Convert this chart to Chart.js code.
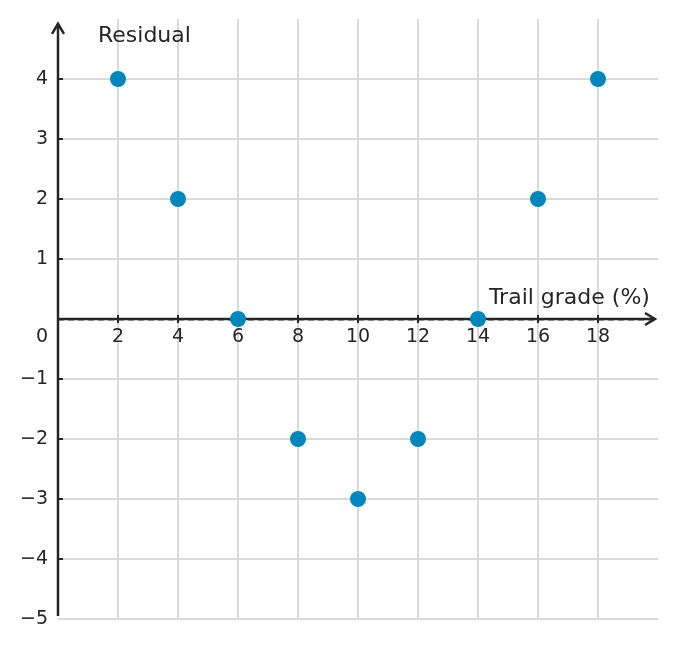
<!DOCTYPE html>
<html>
<head>
<meta charset="utf-8">
<script src="https://cdn.jsdelivr.net/npm/chart.js@4/dist/chart.umd.min.js"></script>
<style>
  html, body { margin: 0; padding: 0; background: #fff; }
  #wrap { width: 678px; height: 648px; }
</style>
</head>
<body>
<div id="wrap"><canvas id="residChart" width="678" height="648"></canvas></div>
<script>
// Data
const grades = [2, 4, 6, 8, 10, 12, 14, 16, 18];
const residuals = [4, 2, 0, -2, -3, -2, 0, 2, 4];
const xTicks = [2, 4, 6, 8, 10, 12, 14, 16, 18];
const yTicks = [4, 3, 2, 1, -1, -2, -3, -4, -5];
const xTitle = 'Trail grade (%)';
const yTitle = 'Residual';

const INK = '#262626';
const FONT = '"DejaVu Sans", sans-serif';

// --- Axes with arrows, ticks and labels ---
const axesPlugin = {
    id: 'residAxes',
    beforeDatasetsDraw(chart) {
        const ctx = chart.ctx;
        const xs = chart.scales.x;
        const ys = chart.scales.y;
        const x0 = xs.getPixelForValue(0);
        const y0 = ys.getPixelForValue(0);
        const yBottom = ys.getPixelForValue(-5);
        const yTop = ys.getPixelForValue(4.92);
        const xRight = xs.getPixelForValue(19.9);

        ctx.save();
        // dashed zero line
        ctx.strokeStyle = '#8a8a8a';
        ctx.lineWidth = 1.5;
        ctx.setLineDash([6, 4]);
        ctx.beginPath();
        ctx.moveTo(x0, y0 + 1);
        ctx.lineTo(xs.getPixelForValue(20), y0 + 1);
        ctx.stroke();
        ctx.setLineDash([]);

        // axis lines
        ctx.strokeStyle = INK;
        ctx.lineWidth = 2.5;
        ctx.beginPath();
        ctx.moveTo(x0, y0);
        ctx.lineTo(xRight, y0);
        ctx.moveTo(x0, yBottom - 3);
        ctx.lineTo(x0, yTop);
        ctx.stroke();

        // arrowheads
        ctx.lineJoin = 'miter';
        ctx.beginPath();
        ctx.moveTo(xRight - 10, y0 - 6);
        ctx.lineTo(xRight, y0);
        ctx.lineTo(xRight - 10, y0 + 6);
        ctx.moveTo(x0 - 6, yTop + 10);
        ctx.lineTo(x0, yTop);
        ctx.lineTo(x0 + 6, yTop + 10);
        ctx.stroke();

        // tick marks
        ctx.lineWidth = 2;
        ctx.beginPath();
        xTicks.forEach(v => {
            const px = xs.getPixelForValue(v);
            ctx.moveTo(px, y0 - 4);
            ctx.lineTo(px, y0 + 4);
        });
        yTicks.forEach(v => {
            if (v === -5) return;
            const py = ys.getPixelForValue(v);
            ctx.moveTo(x0, py);
            ctx.lineTo(x0 + 5, py);
        });
        ctx.stroke();

        // tick labels
        ctx.fillStyle = INK;
        ctx.font = '19px ' + FONT;
        ctx.textBaseline = 'middle';
        ctx.textAlign = 'center';
        xTicks.forEach(v => {
            ctx.fillText(String(v), xs.getPixelForValue(v), y0 + 18.5);
        });
        ctx.textAlign = 'right';
        yTicks.forEach(v => {
            const label = v < 0 ? '\u2212' + Math.abs(v) : String(v);
            ctx.fillText(label, x0 - 10, ys.getPixelForValue(v));
        });
        ctx.fillText('0', x0 - 10, y0 + 18.5);

        // axis titles
        ctx.font = '22px ' + FONT;
        ctx.textAlign = 'left';
        ctx.fillText(yTitle, x0 + 40, ys.getPixelForValue(4.72));
        ctx.textAlign = 'right';
        ctx.fillText(xTitle, xs.getPixelForValue(19.73), y0 - 21);
        ctx.restore();
    }
};

const gridColor = (skip) => (c) => {
    const v = c.tick ? c.tick.value : null;
    return skip.includes(v) ? 'rgba(0,0,0,0)' : '#d9d9d9';
};

new Chart(document.getElementById('residChart'), {
    type: 'scatter',
    data: {
        datasets: [{
            data: grades.map((g, i) => ({ x: g, y: residuals[i] })),
            backgroundColor: '#0087bd',
            borderColor: '#0087bd',
            pointRadius: 8,
            pointHoverRadius: 8,
            borderWidth: 0
        }]
    },
    options: {
        responsive: false,
        animation: false,
        devicePixelRatio: 1,
        layout: { padding: { left: 58, right: 20, top: 19, bottom: 29 } },
        plugins: { legend: { display: false }, tooltip: { enabled: false } },
        scales: {
            x: {
                type: 'linear', min: 0, max: 20,
                ticks: { display: false, stepSize: 2 },
                border: { display: false },
                grid: { color: gridColor([0, 20]), lineWidth: 2, drawTicks: false }
            },
            y: {
                type: 'linear', min: -5, max: 5,
                ticks: { display: false, stepSize: 1 },
                border: { display: false },
                grid: { color: gridColor([0, 5]), lineWidth: 2, drawTicks: false }
            }
        }
    },
    plugins: [axesPlugin]
});
</script>
</body>
</html>
